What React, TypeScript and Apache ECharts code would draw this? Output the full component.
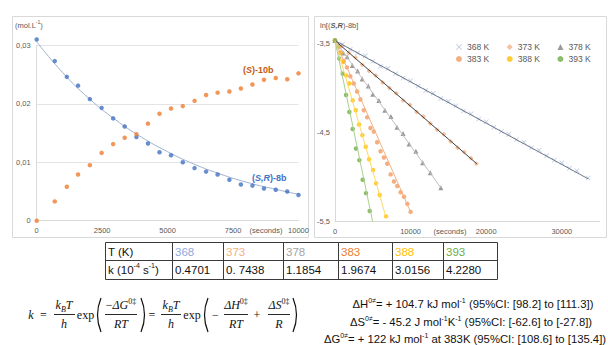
import React, { useEffect, useRef } from 'react';
import * as echarts from 'echarts';

// ---------- Left chart data ----------
const leftTimes = [0, 690, 1150, 1580, 2030, 2480, 2920, 3360, 3810, 4250, 4690, 5130, 5580, 6030, 6470, 6910, 7360, 7800, 8240, 8680, 9130, 9570, 10000];
const srConc = [0.0310, 0.0273, 0.0246, 0.0231, 0.0208, 0.0193, 0.0175, 0.0161, 0.0143, 0.0132, 0.0117, 0.0112, 0.0100, 0.0090, 0.0084, 0.0079, 0.0070, 0.0062, 0.0060, 0.0055, 0.0053, 0.0050, 0.0044];
const sConc = [0, 0.0033, 0.0058, 0.0079, 0.0095, 0.0116, 0.0131, 0.0142, 0.0148, 0.0166, 0.0183, 0.0192, 0.0196, 0.0205, 0.0215, 0.0219, 0.0221, 0.0226, 0.0233, 0.0241, 0.0244, 0.0242, 0.0252];
const fitTimes = [0, 1000, 2000, 3000, 4000, 5000, 6000, 7000, 8000, 9000, 10000];
const fitConc = [0.0306, 0.0253, 0.0209, 0.0173, 0.0143, 0.0118, 0.0097, 0.0080, 0.0066, 0.0055, 0.0045];

// ---------- Right chart data (ln[(S,R)-8b] vs seconds) ----------
const t368 = [0, 1000, 2000, 3000, 4000, 5000, 6000, 7000, 8000, 9000, 10000, 11000, 12000, 13000, 14000, 15000, 16000, 17000, 18000, 19000, 20000, 21000, 22000, 23000, 24000, 25000, 26000, 27000, 28000, 29000, 30000, 31000, 32000, 33500];
const v368 = [-3.47, -3.51, -3.57, -3.61, -3.64, -3.70, -3.76, -3.78, -3.84, -3.89, -3.92, -3.98, -4.03, -4.06, -4.12, -4.15, -4.20, -4.26, -4.29, -4.35, -4.38, -4.44, -4.49, -4.52, -4.58, -4.61, -4.67, -4.70, -4.76, -4.81, -4.84, -4.90, -4.93, -5.01];
const t373 = [0, 900, 1800, 2700, 3600, 4500, 5400, 6300, 7200, 8100, 9000, 9900, 10800, 11700, 12600, 13500, 14400, 15300, 16200, 17100, 18000, 18700];
const v373 = [-3.47, -3.53, -3.61, -3.66, -3.74, -3.81, -3.86, -3.94, -4.00, -4.06, -4.14, -4.19, -4.27, -4.32, -4.40, -4.47, -4.52, -4.60, -4.67, -4.72, -4.79, -4.85];
const t378 = [0, 500, 1100, 1600, 2300, 3000, 3600, 4400, 5000, 5800, 6600, 7400, 8200, 9000, 9800, 10700, 11600, 12600, 14000];
const v378 = [-3.47, -3.53, -3.61, -3.65, -3.75, -3.81, -3.90, -3.98, -4.07, -4.14, -4.25, -4.32, -4.44, -4.51, -4.63, -4.71, -4.84, -4.95, -5.12];
const t383 = [0, 690, 1150, 1580, 2030, 2480, 2920, 3360, 3810, 4250, 4690, 5130, 5580, 6030, 6470, 6910, 7360, 7800, 8240, 8680, 9130, 9570, 10000];
const v383 = [-3.47, -3.60, -3.70, -3.77, -3.87, -3.95, -4.04, -4.13, -4.25, -4.33, -4.45, -4.49, -4.61, -4.71, -4.78, -4.85, -4.97, -5.05, -5.10, -5.17, -5.22, -5.30, -5.39];
const t388 = [0, 440, 750, 1100, 1460, 1900, 2340, 2740, 3180, 3620, 4060, 4500, 5030, 5430, 5910, 6750];
const v388 = [-3.47, -3.54, -3.61, -3.71, -3.86, -3.95, -4.14, -4.25, -4.41, -4.53, -4.66, -4.80, -4.92, -5.07, -5.20, -5.44];
const t393 = [0, 570, 1020, 1460, 1900, 2340, 2780, 3220, 3660, 4100, 4590];
const v393 = [-3.47, -3.67, -3.84, -4.08, -4.27, -4.46, -4.68, -4.81, -5.03, -5.18, -5.38];
// trend line end points [t, value]
const trend368 = [[0, -3.47], [33500, -5.02]];
const trend373 = [[0, -3.47], [18750, -4.85]];
const trend378 = [[0, -3.47], [14000, -5.12]];
const trend383 = [[0, -3.47], [10050, -5.40]];
const trend388 = [[0, -3.47], [6750, -5.45]];
const trend393 = [[0, -3.47], [4985, -5.50]];

// ---------- Table ----------
const tableTemps = ['368', '373', '378', '383', '388', '393'];
const tableK = ['0.4701', '0. 7438', '1.1854', '1.9674', '3.0156', '4.2280'];
const tempColors = ['#8EA9DB', '#F4B183', '#A5A5A5', '#ED7D31', '#FFC000', '#70AD47'];

const X_ICON = 'path://M0,1L1,0L5,4L9,0L10,1L6,5L10,9L9,10L5,6L1,10L0,9L4,5Z';
const SANS = 'Liberation Sans';
const SERIF = 'Liberation Serif';
const GRAY = '#595959';

const zip = (a: number[], b: number[]) => a.map((x, i) => [x, b[i]]);

function buildOption() {
  const axisText = { fontSize: 7.5, color: GRAY, fontFamily: SANS };
  const axisLine = { show: true, onZero: false, lineStyle: { color: '#d9d9d9', width: 1 } };

  const g: any[] = [];
  // panel borders
  g.push({ type: 'rect', shape: { x: 12.5, y: 16.5, width: 296, height: 221 }, style: { fill: 'none', stroke: '#d9d9d9', lineWidth: 1 }, z: -1 });
  g.push({ type: 'rect', shape: { x: 314.5, y: 16.5, width: 292, height: 221 }, style: { fill: 'none', stroke: '#d9d9d9', lineWidth: 1 }, z: -1 });

  // chart texts
  g.push({ type: 'text', x: 15, y: 25, style: { text: '{a|(mol.L}{s|-1}{a|)}', verticalAlign: 'middle', rich: { a: { fontSize: 7.5, fill: GRAY, fontFamily: SANS, lineHeight: 11 }, s: { fontSize: 5, fill: GRAY, fontFamily: SANS, lineHeight: 6, verticalAlign: 'top' } } } });
  g.push({ type: 'text', x: 266, y: 230, style: { text: '(seconds)', fontSize: 7.5, fill: GRAY, fontFamily: SANS, align: 'center', verticalAlign: 'middle' } });
  g.push({ type: 'text', x: 450, y: 231, style: { text: '(seconds)', fontSize: 7.5, fill: GRAY, fontFamily: SANS, align: 'center', verticalAlign: 'middle' } });
  g.push({ type: 'text', x: 320, y: 25, style: { text: '{a|ln[(}{i|S,R}{a|)-8b]}', verticalAlign: 'middle', rich: { a: { fontSize: 7.5, fill: GRAY, fontFamily: SANS }, i: { fontSize: 7.5, fill: GRAY, fontFamily: SANS, fontStyle: 'italic', fontWeight: 'bold' } } } });
  g.push({ type: 'text', x: 243, y: 70, style: { text: '{a|(}{i|S}{a|)-10b}', verticalAlign: 'middle', rich: { a: { fontSize: 9, fill: '#C55A11', fontFamily: SANS, fontWeight: 'bold' }, i: { fontSize: 9, fill: '#C55A11', fontFamily: SANS, fontWeight: 'bold', fontStyle: 'italic' } } } });
  g.push({ type: 'text', x: 252, y: 178, style: { text: '{a|(}{i|S,R}{a|)-8b}', verticalAlign: 'middle', rich: { a: { fontSize: 9, fill: '#4472C4', fontFamily: SANS, fontWeight: 'bold' }, i: { fontSize: 9, fill: '#4472C4', fontFamily: SANS, fontWeight: 'bold', fontStyle: 'italic' } } } });

  // table
  const cols = [105, 172, 223, 283, 338, 392, 443, 497];
  const tTop = 242, tMid = 260, tBot = 279;
  const tStroke = { stroke: '#3a3a3a', lineWidth: 1 };
  g.push({ type: 'rect', shape: { x: cols[0] + 0.5, y: tTop + 0.5, width: cols[7] - cols[0], height: tBot - tTop }, style: { fill: '#fff', ...tStroke } });
  g.push({ type: 'line', shape: { x1: cols[0], y1: tMid + 0.5, x2: cols[7], y2: tMid + 0.5 }, style: tStroke });
  for (let i = 1; i < 7; i++) {
    g.push({ type: 'line', shape: { x1: cols[i] + 0.5, y1: tTop, x2: cols[i] + 0.5, y2: tBot }, style: tStroke });
  }
  const cell = { fontSize: 11.5, fontFamily: SANS, verticalAlign: 'middle' };
  g.push({ type: 'text', x: cols[0] + 3, y: 251.5, style: { text: 'T (K)', fill: '#111', ...cell } });
  g.push({ type: 'text', x: cols[0] + 3, y: 270, style: { text: '{n|k (10}{s|-4}{n| s}{s|-1}{n|)}', verticalAlign: 'middle', rich: { n: { fontSize: 11.5, fontFamily: SANS, fill: '#111', lineHeight: 16 }, s: { fontSize: 7, fontFamily: SANS, fill: '#111', lineHeight: 8, verticalAlign: 'top' } } } });
  tableTemps.forEach((tt, i) => {
    g.push({ type: 'text', x: cols[i + 1] + 3, y: 251.5, style: { text: tt, fill: tempColors[i], ...cell } });
    g.push({ type: 'text', x: cols[i + 1] + 3, y: 270, style: { text: tableK[i], fill: '#111', ...cell } });
  });

  // equation
  const EQ = 12;
  const eqRich = {
    i: { fontSize: EQ, fontFamily: SERIF, fontStyle: 'italic', fill: '#111', lineHeight: 16 },
    n: { fontSize: EQ, fontFamily: SERIF, fill: '#111', lineHeight: 16 },
    sub: { fontSize: 8, fontFamily: SERIF, fontStyle: 'italic', fill: '#111', lineHeight: 10, verticalAlign: 'bottom' },
    sup: { fontSize: 8, fontFamily: SERIF, fill: '#111', lineHeight: 8, verticalAlign: 'top' },
  };
  const eqT = (x: number, y: number, text: string, align = 'center') =>
    g.push({ type: 'text', x, y, style: { text, align, verticalAlign: 'middle', rich: eqRich } });
  const bar = (x1: number, x2: number) =>
    g.push({ type: 'line', shape: { x1, y1: 314.5, x2, y2: 314.5 }, style: { stroke: '#111', lineWidth: 0.9 } });
  const paren = (x: number, left: boolean) =>
    g.push({ type: 'bezierCurve', shape: { x1: x, y1: 298, cpx1: left ? x - 7 : x + 7, cpy1: 315, x2: x, y2: 332 }, style: { stroke: '#111', lineWidth: 1.2, fill: 'none' } });
  const NUM = 305, DEN = 324, MID = 315;
  eqT(31, MID, '{i|k}');
  eqT(43.5, MID, '{n|=}');
  eqT(64, NUM, '{i|k}{sub|B}{i|T}'); bar(54, 75); eqT(64, DEN, '{i|h}');
  eqT(85.5, MID, '{n|exp}');
  paren(101, true);
  eqT(121, NUM, '{n|−}{i|ΔG}{sup|0‡}'); bar(105, 137); eqT(121, DEN, '{i|RT}');
  paren(141, false);
  eqT(152, MID, '{n|=}');
  eqT(171, NUM, '{i|k}{sub|B}{i|T}'); bar(161, 181); eqT(171, DEN, '{i|h}');
  eqT(192, MID, '{n|exp}');
  paren(208, true);
  eqT(215.5, MID, '{n|−}');
  eqT(236, NUM, '{i|ΔH}{sup|0‡}'); bar(224, 248); eqT(236, DEN, '{i|RT}');
  eqT(257, MID, '{n|+}');
  eqT(279, NUM, '{i|ΔS}{sup|0‡}'); bar(268, 290); eqT(279, DEN, '{i|R}');
  paren(293, false);

  // thermodynamic parameter lines
  const pRich = {
    n: { fontSize: 11.3, fontFamily: SANS, fill: '#111', lineHeight: 14 },
    s: { fontSize: 7, fontFamily: SANS, fill: '#111', lineHeight: 7, verticalAlign: 'top' },
  };
  const pT = (x: number, y: number, text: string) =>
    g.push({ type: 'text', x, y, style: { text, align: 'center', verticalAlign: 'middle', rich: pRich } });
  pT(473, 304, '{n|ΔH}{s|0≠}{n|= + 104.7 kJ mol}{s|-1}{n| (95%CI: [98.2] to [111.3])}');
  pT(471, 322, '{n|ΔS}{s|0≠}{n|= - 45.2 J mol}{s|-1}{n|K}{s|-1}{n| (95%CI: [-62.6] to [-27.8])}');
  pT(465, 338.5, '{n|ΔG}{s|0≠}{n|= + 122 kJ mol}{s|-1}{n| at 383K (95%CI: [108.6] to [135.4])}');

  const scat = (name: string, data: number[][], color: string, symbol: string, size: number) => ({
    name, type: 'scatter', xAxisIndex: 1, yAxisIndex: 1, data, symbol, symbolSize: size, clip: false,
    itemStyle: { color }, z: 3,
  });
  const trend = (name: string, data: number[][], color: string) => ({
    name, type: 'line', xAxisIndex: 1, yAxisIndex: 1, data, showSymbol: false, symbol: 'none', clip: false,
    lineStyle: { color, width: 1 }, z: 4,
  });

  const legendBase = {
    orient: 'horizontal', left: 456, itemWidth: 6, itemHeight: 6, itemGap: 17.5, padding: 0, selectedMode: false,
    textStyle: { fontSize: 8.5, color: GRAY, fontFamily: SANS },
  };

  return {
    animation: false,
    backgroundColor: '#ffffff',
    grid: [
      { left: 36.7, top: 45.3, width: 261.8, height: 175.4 },
      { left: 335, top: 43.3, width: 264.6, height: 178.4 },
    ],
    legend: [
      { ...legendBase, top: 42.5, data: [{ name: '368 K', icon: X_ICON }, { name: '373 K', icon: 'diamond' }, { name: '378 K', icon: 'triangle' }] },
      { ...legendBase, top: 54.5, data: [{ name: '383 K', icon: 'circle' }, { name: '388 K', icon: 'circle' }, { name: '393 K', icon: 'circle' }] },
    ],
    xAxis: [
      {
        type: 'value', gridIndex: 0, min: 0, max: 10000, interval: 2500,
        axisLine, axisTick: { show: false }, splitLine: { show: false },
        axisLabel: { ...axisText, margin: 6, formatter: (v: number) => String(v) },
      },
      {
        type: 'value', gridIndex: 1, min: 0, max: 35000, interval: 10000,
        axisLine, axisTick: { show: false }, splitLine: { show: false },
        axisLabel: { ...axisText, margin: 6, formatter: (v: number) => (v % 10000 === 0 ? String(v) : '') },
      },
    ],
    yAxis: [
      {
        type: 'value', gridIndex: 0, min: 0, max: 0.03, interval: 0.01,
        axisLine, axisTick: { show: false },
        splitLine: { show: true, lineStyle: { color: '#e4e4e4', width: 1 } },
        axisLabel: { ...axisText, margin: 6, formatter: (v: number) => (Math.abs(v) < 1e-9 ? '0' : v.toFixed(2).replace('.', ',')) },
      },
      {
        type: 'value', gridIndex: 1, min: -5.5, max: -3.5, interval: 0.5,
        axisLine, axisTick: { show: false }, splitLine: { show: false },
        axisLabel: {
          ...axisText, margin: 5,
          formatter: (v: number) => {
            const r = Math.round(v * 10);
            return Math.abs(r % 10) === 5 ? v.toFixed(1).replace('.', ',') : '';
          },
        },
      },
    ],
    series: [
      {
        name: 'fit', type: 'line', xAxisIndex: 0, yAxisIndex: 0, data: zip(fitTimes, fitConc), smooth: true,
        showSymbol: false, symbol: 'none', clip: false, lineStyle: { color: '#9FB2CF', width: 1 }, z: 2,
      },
      {
        name: '(S,R)-8b', type: 'scatter', xAxisIndex: 0, yAxisIndex: 0, data: zip(leftTimes, srConc), symbolSize: 4.5,
        clip: false, itemStyle: { color: '#4472C4' }, z: 3,
      },
      {
        name: '(S)-10b', type: 'scatter', xAxisIndex: 0, yAxisIndex: 0, data: zip(leftTimes, sConc), symbolSize: 4.5,
        clip: false, itemStyle: { color: '#ED7D31' }, z: 3,
      },
      trend('t368', trend368, '#6B778A'),
      trend('t373', trend373, '#404040'),
      trend('t378', trend378, '#BFBFBF'),
      trend('t383', trend383, '#F4B183'),
      trend('t388', trend388, '#FFD966'),
      trend('t393', trend393, '#A9D18E'),
      scat('368 K', zip(t368, v368), '#A9B9D6', X_ICON, 5),
      scat('373 K', zip(t373, v373), '#F4B183', 'diamond', 5),
      scat('378 K', zip(t378, v378), '#808080', 'triangle', 5),
      scat('383 K', zip(t383, v383), '#F09A62', 'circle', 4.5),
      scat('388 K', zip(t388, v388), '#FFC000', 'circle', 4.5),
      scat('393 K', zip(t393, v393), '#70AD47', 'circle', 4.5),
    ],
    graphic: { elements: g },
  };
}

export default function App() {
  const ref = useRef<HTMLDivElement>(null);
  useEffect(() => {
    const chart = echarts.init(ref.current!, null, { renderer: 'svg' });
    chart.setOption(buildOption() as any);
    return () => chart.dispose();
  }, []);
  return <div ref={ref} style={{ position: 'absolute', left: 0, top: 0, width: 608, height: 345 }} />;
}
